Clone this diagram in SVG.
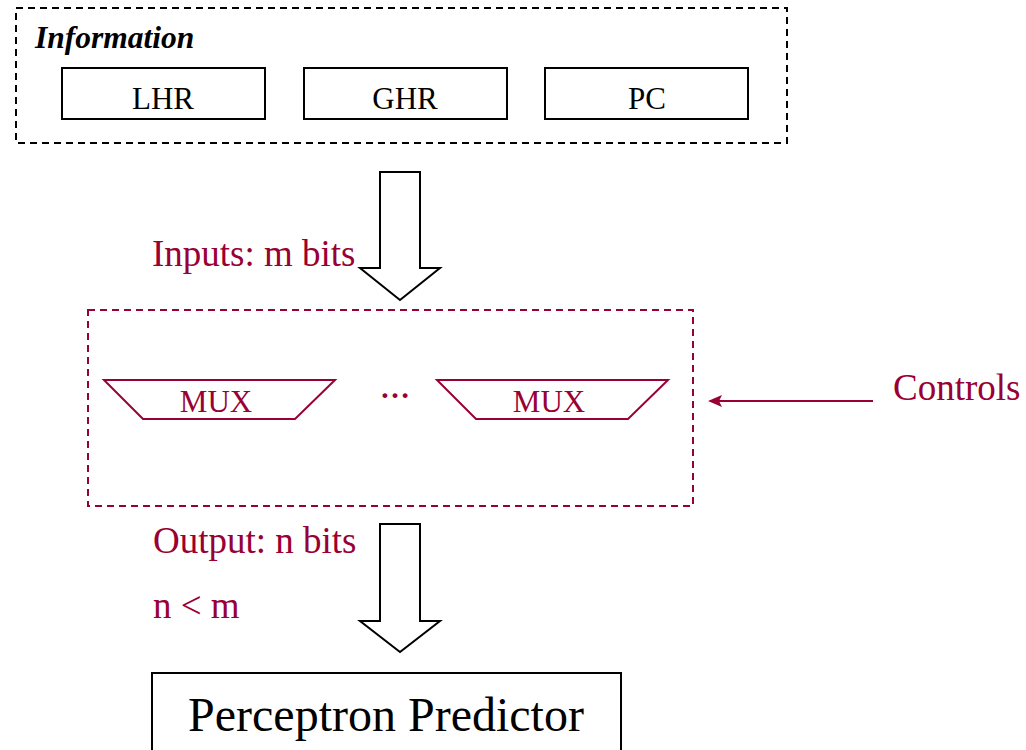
<svg xmlns="http://www.w3.org/2000/svg" width="1026" height="750" viewBox="0 0 1026 750">
<style>
.blk{fill:#fff;stroke:#000;stroke-width:2}
.dash{fill:none;stroke:#000;stroke-width:2;stroke-dasharray:7,5}
.rdash{fill:none;stroke:#990033;stroke-width:2;stroke-dasharray:7,5}
.mux{fill:#fff;stroke:#990033;stroke-width:2}
.t{font-family:"Liberation Serif","Times New Roman",serif;fill:#000}
.r{font-family:"Liberation Serif","Times New Roman",serif;fill:#990033}
</style>
<defs>
<marker id="ah" markerWidth="14" markerHeight="12" refX="12" refY="6" orient="auto" markerUnits="userSpaceOnUse">
<path d="M0,0 L14,6 L0,12 L3,6 Z" fill="#990033"/>
</marker>
</defs>
<rect width="1026" height="750" fill="#fff"/>
<g id="information">
<rect class="dash" x="16" y="8" width="771" height="135"/>
<text class="t" x="35" y="48" font-size="31.5" font-weight="bold" font-style="italic">Information</text>
</g>
<g id="lhr">
<rect class="blk" x="62" y="68" width="203" height="51"/>
<text class="t" x="163" y="109" font-size="31" text-anchor="middle">LHR</text>
</g>
<g id="ghr">
<rect class="blk" x="304" y="68" width="203" height="51"/>
<text class="t" x="405" y="109" font-size="31" text-anchor="middle">GHR</text>
</g>
<g id="pc">
<rect class="blk" x="545" y="68" width="203" height="51"/>
<text class="t" x="647" y="109" font-size="31" text-anchor="middle">PC</text>
</g>
<g id="mux-group">
<rect class="rdash" x="88" y="310" width="605" height="196"/>
</g>
<g id="mux1">
<path class="mux" d="M104,380 L335,380 L295,419 L143,419 Z"/>
<text class="r" x="216" y="412" font-size="31" text-anchor="middle">MUX</text>
</g>
<text class="r" x="395" y="398" font-size="30" font-weight="bold" text-anchor="middle">…</text>
<g id="mux2">
<path class="mux" d="M437,380 L668,380 L628,419 L476,419 Z"/>
<text class="r" x="549" y="412" font-size="31" text-anchor="middle">MUX</text>
</g>
<g id="controls">
<text class="r" x="893" y="400" font-size="37">Controls</text>
</g>
<g id="predictor">
<rect class="blk" x="152" y="673" width="469" height="90"/>
<text class="t" x="386" y="731" font-size="48" text-anchor="middle">Perceptron Predictor</text>
</g>
<g id="connectors">
<path class="blk" d="M380,172 L420,172 L420,268 L440,268 L400,300 L360,268 L380,268 Z"/>
<path class="blk" d="M380,524 L420,524 L420,621 L440,621 L400,652 L360,621 L380,621 Z"/>
<line x1="873" y1="401" x2="710" y2="401" stroke="#990033" stroke-width="2" marker-end="url(#ah)"/>
<text class="r" x="152" y="266" font-size="37">Inputs: m bits</text>
<text class="r" x="153" y="553" font-size="37">Output: n bits</text>
<text class="r" x="153" y="618" font-size="37">n &lt; m</text>
</g>
</svg>
